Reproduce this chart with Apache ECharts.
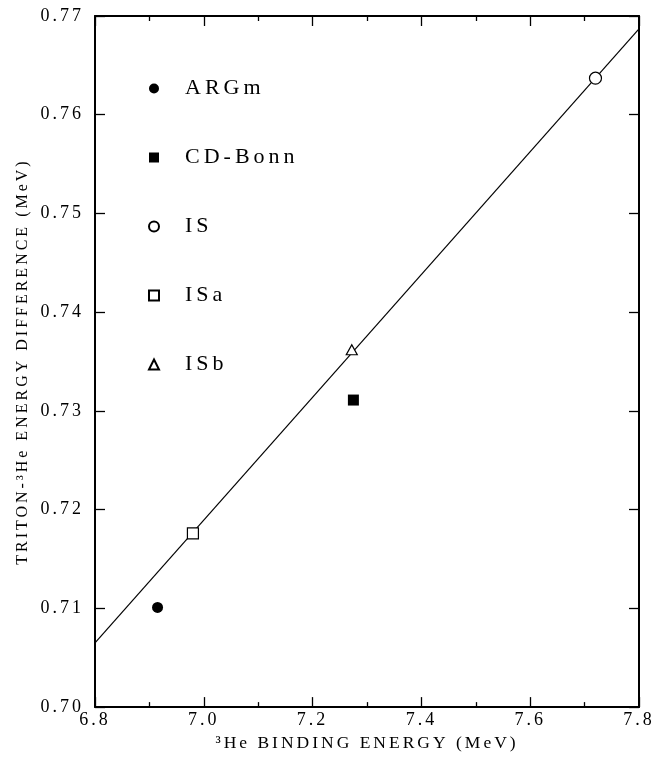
<!DOCTYPE html>
<html>
<head>
<meta charset="utf-8">
<script src="https://cdn.jsdelivr.net/npm/echarts@6/dist/echarts.min.js"></script>
<style>
  html, body { margin: 0; padding: 0; background: #fff; }
  #chart { width: 672px; height: 757px; }
</style>
</head>
<body>
<div id="chart"></div>
<script>
// values
const argmPts = [[6.915, 0.7101]]
const cdBonnPts = [[7.275, 0.7311]]
const isPts = [[7.720, 0.7637]]
const isaPts = [[6.980, 0.7176]]
const isbPts = [[7.272, 0.7362]]
// straight fit line, end points
const fitX = [6.8, 7.8]
const fitY = [0.7065, 0.7687]

const legendNames = ['ARGm', 'CD-Bonn', 'IS', 'ISa', 'ISb']
const serif = 'Liberation Serif'

// the original typesetting is widely letter-spaced (legend a bit wider)
const origFillText = CanvasRenderingContext2D.prototype.fillText
CanvasRenderingContext2D.prototype.fillText = function () {
  this.letterSpacing = this.font.indexOf('22px') > -1 ? '4px' : '3px'
  return origFillText.apply(this, arguments)
}

const chart = echarts.init(document.getElementById('chart'), null, { renderer: 'canvas' })

const openStyle = { color: '#fff', borderColor: '#000', borderWidth: 1.2, opacity: 1 }
const fillStyle = { color: '#000', opacity: 1 }

const xBase = {
  type: 'value', min: 6.8, max: 7.8, interval: 0.2,
  axisLine: { show: true, lineStyle: { color: '#000', width: 2 } },
  axisTick: { show: true, inside: true, length: 10, lineStyle: { color: '#000', width: 1.3 } },
  minorTick: { show: true, splitNumber: 2, length: 5, lineStyle: { color: '#000', width: 1.3 } },
  splitLine: { show: false }
}
const yBase = {
  type: 'value', min: 0.70, max: 0.77, interval: 0.01,
  axisLine: { show: true, lineStyle: { color: '#000', width: 2 } },
  axisTick: { show: true, inside: true, length: 10, lineStyle: { color: '#000', width: 1.3 } },
  splitLine: { show: false }
}

chart.setOption({
  backgroundColor: '#fff',
  animation: false,
  grid: { left: 95, right: 33, top: 16, bottom: 45 },
  legend: {
    data: legendNames,
    orient: 'vertical',
    left: 143,
    top: 72,
    itemWidth: 10,
    itemHeight: 10,
    itemGap: 46,
    textStyle: { fontFamily: serif, fontSize: 22, color: '#000', lineHeight: 23, padding: [0, 0, 0, 21] }
  },
  xAxis: [
    Object.assign({}, xBase, {
      position: 'bottom',
      name: '³He BINDING ENERGY (MeV)',
      nameLocation: 'middle',
      nameGap: 26,
      nameTextStyle: { fontFamily: serif, fontSize: 17.5, color: '#000' },
      axisLabel: { fontFamily: serif, fontSize: 18, color: '#000', margin: 4, formatter: v => v.toFixed(1) }
    }),
    Object.assign({}, xBase, { position: 'top', axisLabel: { show: false } })
  ],
  yAxis: [
    Object.assign({}, yBase, {
      position: 'left',
      name: 'TRITON-³He ENERGY DIFFERENCE (MeV)',
      nameLocation: 'middle',
      nameGap: 64,
      nameTextStyle: { fontFamily: serif, fontSize: 16, color: '#000' },
      axisLabel: { fontFamily: serif, fontSize: 18, color: '#000', margin: 11, formatter: v => v.toFixed(2) }
    }),
    Object.assign({}, yBase, { position: 'right', axisLabel: { show: false } })
  ],
  series: [
    {
      name: 'fit', type: 'line', xAxisIndex: 0, yAxisIndex: 0,
      data: fitX.map((x, i) => [x, fitY[i]]),
      showSymbol: false, symbol: 'none',
      lineStyle: { color: '#000', width: 1.2 }, z: 1
    },
    { name: 'ARGm', type: 'scatter', data: argmPts, symbol: 'circle', symbolSize: 11, itemStyle: fillStyle, z: 3 },
    { name: 'CD-Bonn', type: 'scatter', data: cdBonnPts, symbol: 'rect', symbolSize: 11, itemStyle: fillStyle, z: 3 },
    { name: 'IS', type: 'scatter', data: isPts, symbol: 'circle', symbolSize: 12, itemStyle: openStyle, z: 3 },
    { name: 'ISa', type: 'scatter', data: isaPts, symbol: 'rect', symbolSize: 11, itemStyle: openStyle, z: 3 },
    { name: 'ISb', type: 'scatter', data: isbPts, symbol: 'triangle', symbolSize: [11, 10], itemStyle: openStyle, z: 3 }
  ]
})
</script>
</body>
</html>
